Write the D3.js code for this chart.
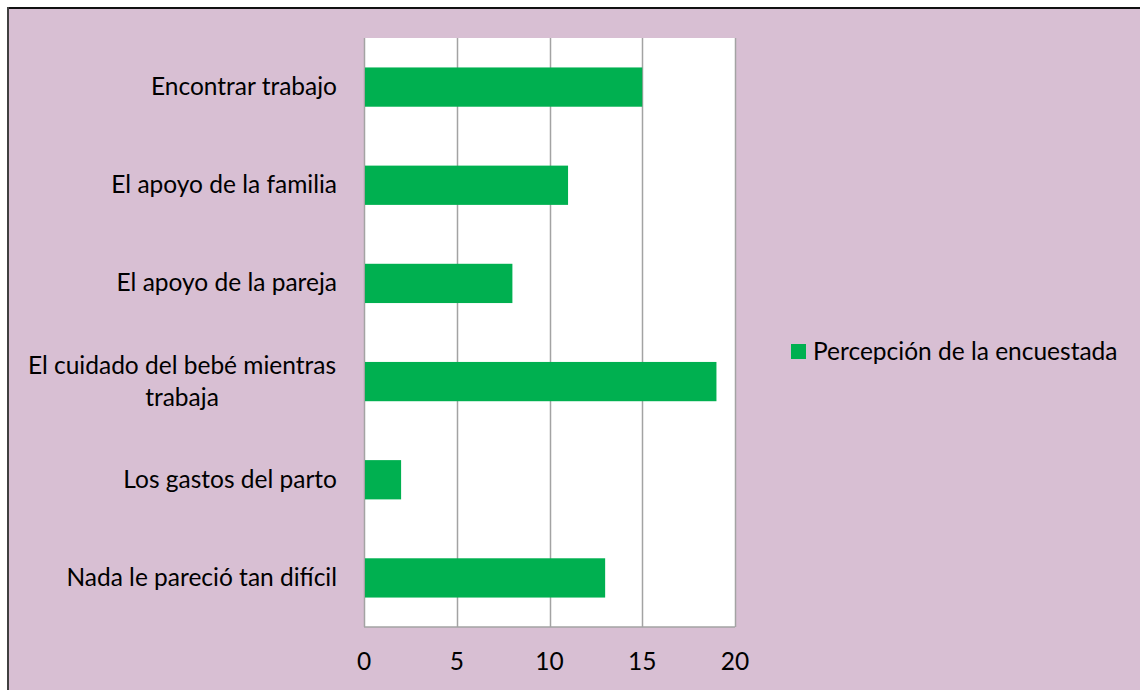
<!DOCTYPE html>
<html><head><meta charset="utf-8">
<script src="https://cdn.jsdelivr.net/npm/d3@7"></script>
<style>
html,body{margin:0;padding:0;background:#fff;}
svg{display:block;font-family:Lato,"Open Sans",sans-serif;}
</style></head>
<body>
<script>
const categories = [
  ["Encontrar trabajo"],
  ["El apoyo de la familia"],
  ["El apoyo de la pareja"],
  ["El cuidado del bebé mientras", "trabaja"],
  ["Los gastos del parto"],
  ["Nada le pareció tan difícil"]
];
const values = [15, 11, 8, 19, 2, 13];
const ticks = [0, 5, 10, 15, 20];
const seriesName = "Percepción de la encuestada";

const W = 1140, H = 690, FS = 24.5;
const svg = d3.select("body").append("svg").attr("width", W).attr("height", H);

// background area
svg.append("rect").attr("x", 8).attr("y", 8).attr("width", W).attr("height", H).attr("fill", "#D8BFD3");
svg.append("line").attr("x1", 7).attr("x2", W).attr("y1", 8).attr("y2", 8).attr("stroke", "#111").attr("stroke-width", 2);
svg.append("line").attr("x1", 8).attr("x2", 8).attr("y1", 7).attr("y2", H).attr("stroke", "#404040").attr("stroke-width", 2);

const plot = {x0: 364, x1: 735, y0: 38, y1: 627};
const x = d3.scaleLinear().domain([0, 20]).range([plot.x0, plot.x1]);
const y = d3.scaleBand().domain(d3.range(categories.length)).range([plot.y0, plot.y1]).paddingInner(0.6).paddingOuter(0.3);

svg.append("rect").attr("x", plot.x0).attr("y", plot.y0).attr("width", plot.x1 - plot.x0).attr("height", plot.y1 - plot.y0).attr("fill", "#fff");

// gridlines
svg.append("g").selectAll("line").data(ticks).join("line")
  .attr("x1", d => Math.round(x(d)) + 0.5).attr("x2", d => Math.round(x(d)) + 0.5)
  .attr("y1", plot.y0).attr("y2", plot.y1)
  .attr("stroke", "#A3A3A3").attr("stroke-width", 1.5);
svg.append("line").attr("x1", plot.x0).attr("x2", plot.x1).attr("y1", plot.y1).attr("y2", plot.y1)
  .attr("stroke", "#A3A3A3").attr("stroke-width", 1.5);

// bars
svg.append("g").selectAll("rect").data(values).join("rect")
  .attr("x", x(0) + 1).attr("y", (d, i) => y(i))
  .attr("width", d => x(d) - x(0) - 1).attr("height", y.bandwidth())
  .attr("fill", "#00B050");

// x tick labels
svg.append("g").selectAll("text").data(ticks).join("text")
  .attr("x", d => x(d)).attr("y", 670).attr("text-anchor", "middle")
  .attr("font-size", FS).attr("fill", "#000").text(d => d);

// category labels
const lg = svg.append("g");
categories.forEach((lines, i) => {
  const cy = y(i) + y.bandwidth() / 2;
  const lh = 32;
  const t = lg.append("text").attr("font-size", FS).attr("fill", "#000");
  if (lines.length === 1) {
    t.attr("x", 337).attr("y", cy + 8).attr("text-anchor", "end").text(lines[0]);
  } else {
    const cx = 182;
    lines.forEach((ln, k) => {
      t.append("tspan").attr("x", cx).attr("y", cy + 8 + (k - (lines.length - 1) / 2) * lh)
        .attr("text-anchor", "middle").text(ln);
    });
  }
});

// legend
svg.append("rect").attr("x", 791).attr("y", 344).attr("width", 15).attr("height", 15).attr("fill", "#00B050");
svg.append("text").attr("x", 813).attr("y", 360).attr("font-size", FS).attr("fill", "#000").text(seriesName);
</script>
</body></html>
